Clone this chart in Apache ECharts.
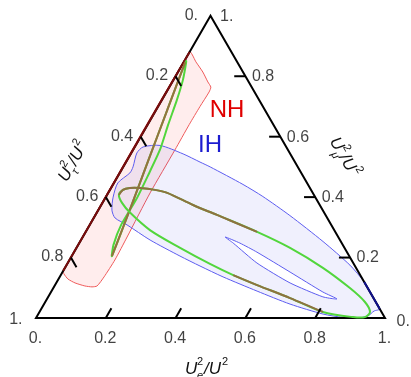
<!DOCTYPE html>
<html>
<head>
<meta charset="utf-8">
<script src="https://cdn.jsdelivr.net/npm/echarts@6/dist/echarts.min.js"></script>
<style>
html,body{margin:0;padding:0;background:#fff}
#main{width:411px;height:377px}
</style>
</head>
<body>
<div id="main"></div>
<script>
// points are [Ue2/U2, Umu2/U2]; Utau2/U2 is what is left
var corners = [[0, 0], [1, 0], [0, 1], [0, 0]];
var tickValues = [0.2, 0.4, 0.6, 0.8];
var edgeLabels = ['0.', '0.2', '0.4', '0.6', '0.8', '1.'];
var edgeValues = [0, 0.2, 0.4, 0.6, 0.8, 1];

// NH allowed region (red)
var nhRegion = [[0, 0.880], [0.035, 0.847], [0.071, 0.814], [0.102, 0.781], [0.119, 0.764],
  [0.122, 0.748], [0.120, 0.700], [0.119, 0.640], [0.120, 0.556], [0.120, 0.414],
  [0.127, 0.268], [0.130, 0.192], [0.127, 0.136], [0.122, 0.106], [0.109, 0.103],
  [0.087, 0.106], [0.054, 0.116], [0.027, 0.129], [0.007, 0.146], [0, 0.156]];

// IH allowed region (blue) and the hole inside it
var ihRegion = [[0.024, 0.566], [0.070, 0.571], [0.150, 0.543], [0.212, 0.516], [0.249, 0.500],
  [0.372, 0.442], [0.449, 0.402], [0.558, 0.339], [0.696, 0.253], [0.812, 0.175],
  [0.881, 0.119], [0.930, 0.070], [0.970, 0.030], [0.957, 0.023], [0.948, 0.007],
  [0.923, 0], [0.879, 0.002], [0.816, 0.013], [0.705, 0.046], [0.589, 0.089],
  [0.468, 0.136], [0.384, 0.172], [0.310, 0.205], [0.198, 0.258], [0.107, 0.308],
  [0.061, 0.331], [0.039, 0.357], [0.021, 0.400], [0.011, 0.447], [0.029, 0.480],
  [0.028, 0.500], [0.016, 0.546]];
var ihHole = [[0.408, 0.268], [0.460, 0.248], [0.524, 0.218], [0.652, 0.152], [0.779, 0.086],
  [0.831, 0.063], [0.787, 0.070], [0.670, 0.116], [0.542, 0.182], [0.441, 0.248]];

// best fit contours
var thinGreen = [[0.005, 0.850], [0.027, 0.788], [0.043, 0.721], [0.059, 0.639], [0.077, 0.556],
  [0.085, 0.473], [0.091, 0.391], [0.090, 0.308], [0.101, 0.242], [0.115, 0.205],
  [0.088, 0.368], [0.060, 0.528], [0.032, 0.688]];
var thinBrown = [[0.115, 0.205], [0.088, 0.368], [0.060, 0.528], [0.032, 0.688], [0.004, 0.847]];
var bigLoop = [[0.034, 0.407], [0.037, 0.424], [0.054, 0.430], [0.083, 0.430], [0.129, 0.424],
  [0.169, 0.414], [0.263, 0.374], [0.348, 0.341], [0.491, 0.285], [0.612, 0.232],
  [0.739, 0.166], [0.850, 0.099], [0.916, 0.053], [0.947, 0.020], [0.941, 0.003],
  [0.907, 0.003], [0.812, 0.020], [0.695, 0.066], [0.579, 0.109], [0.494, 0.142],
  [0.409, 0.179], [0.297, 0.232], [0.181, 0.291], [0.096, 0.348], [0.056, 0.381]];
var bigBrownUpper = bigLoop.slice(0, 9);
var bigBrownLower = bigLoop.slice(16, 20);

var S3 = Math.sqrt(3) / 2;
var tl = 0.032;
var FONT = '"Liberation Sans", Arial, sans-serif';

function toXY(p) { return [p[0] + p[1] / 2, p[1] * S3]; }

function shape(pts, closed, smooth, style) {
  return {
    type: 'custom', coordinateSystem: 'cartesian2d', silent: true, clip: false,
    data: pts.map(toXY),
    renderItem: function (params, api) {
      if (params.dataIndex !== 0) return null;
      var xy = pts.map(function (p) { return api.coord(toXY(p)); });
      return { type: closed ? 'polygon' : 'polyline', shape: { points: xy, smooth: smooth }, style: style };
    }
  };
}

var onLeft = nhRegion.filter(function (p) { return p[0] === 0; });
var onRight = ihRegion.filter(function (p) { return Math.abs(p[0] + p[1] - 1) < 0.001; });

var ticks = [];
tickValues.forEach(function (v) {
  ticks.push(toXY([v, 0]).concat(toXY([v, tl])));
  ticks.push(toXY([1 - v, v]).concat(toXY([1 - v - tl, v])));
  ticks.push(toXY([0, 1 - v]).concat(toXY([tl, 1 - v - tl])));
});

var bottomItems = [], rightItems = [], leftItems = [];
edgeValues.forEach(function (v, i) {
  bottomItems.push({ name: edgeLabels[i], value: toXY([v, 0]), label: { position: [0, 21], align: 'center' } });
  var rp = i === 0 ? [12, 4] : (i === 5 ? [10, 1] : [7, 1]);
  rightItems.push({ name: edgeLabels[i], value: toXY([1 - v, v]), label: { position: rp, align: 'left' } });
  var lp = i === 0 ? [-12, 0] : (i === 5 ? [-13, 2] : [-7, 0]);
  leftItems.push({ name: edgeLabels[i], value: toXY([0, 1 - v]), label: { position: lp, align: 'right' } });
});

function labelSeries(items) {
  return {
    type: 'scatter', silent: true, symbolSize: 1, itemStyle: { color: 'rgba(0,0,0,0)' },
    data: items,
    label: { show: true, formatter: function (p) { return p.name; }, verticalAlign: 'middle',
      fontFamily: FONT, fontSize: 16, color: '#111' }
  };
}

function axisTitle(x, y, rot, sub) {
  var it = 'italic 17px ' + FONT, sm = '11px ' + FONT, dy = 3;
  return {
    type: 'group', x: x, y: y, rotation: rot, silent: true,
    children: [
      { type: 'text', style: { text: 'U', x: -24, y: dy, font: it, fill: '#111', verticalAlign: 'middle' } },
      { type: 'text', style: { text: '2', x: -12, y: dy - 7, font: sm, fill: '#111', verticalAlign: 'middle' } },
      { type: 'text', style: { text: sub, x: -12, y: dy + 7, font: 'italic ' + sm, fill: '#111', verticalAlign: 'middle' } },
      { type: 'text', style: { text: '/U', x: -5, y: dy, font: it, fill: '#111', verticalAlign: 'middle' } },
      { type: 'text', style: { text: '2', x: 13, y: dy - 7, font: sm, fill: '#111', verticalAlign: 'middle' } }
    ]
  };
}

var chart = echarts.init(document.getElementById('main'));
chart.setOption({
  animation: false,
  grid: { left: 36, right: 26, top: 15.8, bottom: 59 },
  xAxis: { type: 'value', min: 0, max: 1, show: false },
  yAxis: { type: 'value', min: 0, max: S3, show: false },
  graphic: [
    axisTitle(209, 366, 0, 'e'),
    axisTitle(72, 158, Math.PI / 3, 'τ'),
    axisTitle(348, 158, -Math.PI / 3, 'μ'),
    { type: 'text', x: 227, y: 110, silent: true,
      style: { text: 'NH', font: '24px ' + FONT, fill: '#e00000', align: 'center', verticalAlign: 'middle' } },
    { type: 'text', x: 210, y: 145, silent: true,
      style: { text: 'IH', font: '24px ' + FONT, fill: '#1c1cd0', align: 'center', verticalAlign: 'middle' } }
  ],
  series: [
    shape(nhRegion, true, 0.2, { fill: 'rgba(255,0,0,0.07)', stroke: '#ef5a5a', lineWidth: 1 }),
    shape(ihRegion, true, 0.25, { fill: 'rgba(40,40,230,0.07)', stroke: '#5c5cf0', lineWidth: 1 }),
    shape(ihHole, true, 0.2, { fill: '#ffffff', stroke: '#5c5cf0', lineWidth: 1 }),
    shape(corners, true, 0, { fill: 'none', stroke: '#000', lineWidth: 2 }),
    shape(onLeft, false, 0, { fill: 'none', stroke: '#7a0c0c', lineWidth: 2 }),
    shape(onRight, false, 0, { fill: 'none', stroke: '#10108a', lineWidth: 2 }),
    shape(thinGreen, true, 0.2, { fill: 'none', stroke: '#52d63c', lineWidth: 2 }),
    shape(thinBrown, false, 0.2, { fill: 'none', stroke: '#96703e', lineWidth: 2 }),
    shape(bigLoop, true, 0.3, { fill: 'none', stroke: '#52d63c', lineWidth: 2 }),
    shape(bigBrownUpper, false, 0.3, { fill: 'none', stroke: '#8f7040', lineWidth: 2 }),
    shape(bigBrownLower, false, 0.3, { fill: 'none', stroke: '#8f7040', lineWidth: 2 }),
    {
      type: 'custom', coordinateSystem: 'cartesian2d', silent: true, clip: false,
      data: ticks,
      renderItem: function (params, api) {
        var a = api.coord([api.value(0), api.value(1)]);
        var b = api.coord([api.value(2), api.value(3)]);
        return { type: 'line', shape: { x1: a[0], y1: a[1], x2: b[0], y2: b[1] },
          style: { stroke: '#000', lineWidth: 2 } };
      }
    },
    labelSeries(bottomItems),
    labelSeries(rightItems),
    labelSeries(leftItems)
  ]
});
</script>
</body>
</html>
